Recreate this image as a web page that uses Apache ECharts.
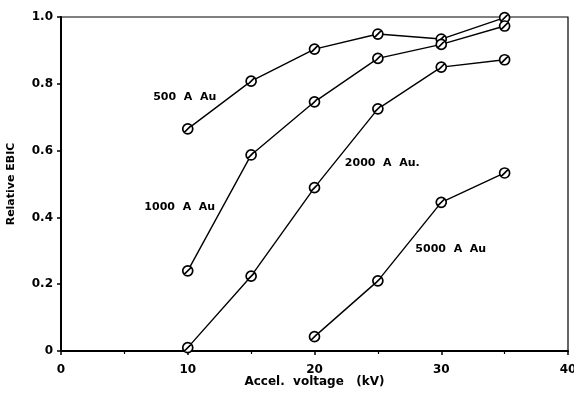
<!DOCTYPE html>
<html>
<head>
<meta charset="utf-8">
<script src="https://cdn.jsdelivr.net/npm/echarts@6/dist/echarts.min.js"></script>
<style>html,body{margin:0;padding:0;background:#fff;}#c{width:574px;height:399px;}</style>
</head>
<body>
<div id="c"></div>
<script>
const voltages = [10, 15, 20, 25, 30, 35];
const au500 = [0.665, 0.808, 0.904, 0.949, 0.934, 0.998];
const au1000 = [0.240, 0.587, 0.746, 0.876, 0.918, 0.973];
const au2000 = [0.010, 0.224, 0.489, 0.725, 0.850, 0.872];
const au5000 = [null, null, 0.043, 0.210, 0.445, 0.533];
const seriesNames = ['500 A Au', '1000 A Au', '2000 A Au.', '5000 A Au'];
const labelPos = [[9.76, 0.760], [9.37, 0.431], [25.35, 0.563], [30.75, 0.305]];
const xTicks = [0, 10, 20, 30, 40];
const yTicks = [0, 0.2, 0.4, 0.6, 0.8, 1.0];

const FONT = 'DejaVu Sans';
const sym = 'path://M0,-5A5,5 0 1,1 0,5A5,5 0 1,1 0,-5Z M-3.6,3.6L3.6,-3.6';

function pairs(vals) {
  const out = [];
  vals.forEach((v, i) => { if (v !== null) out.push([voltages[i], v]); });
  return out;
}
const allVals = [au500, au1000, au2000, au5000];

const chart = echarts.init(document.getElementById('c'), null, {renderer: 'canvas'});
chart.setOption({
  backgroundColor: '#fff',
  animation: false,
  grid: {left: 61, right: 6, top: 17, bottom: 48, show: true, borderColor: '#000', borderWidth: 1.2,
    backgroundColor: 'transparent', containLabel: false, outerBoundsMode: 'none'},
  xAxis: {
    type: 'value', min: 0, max: 40, interval: 10,
    name: 'Accel.  voltage   (kV)', nameLocation: 'middle', nameGap: 25, nameMoveOverlap: false,
    nameTextStyle: {fontFamily: FONT, fontWeight: 'bold', fontSize: 12, color: '#000'},
    axisLine: {show: true, lineStyle: {color: '#000', width: 2}},
    axisTick: {show: true, length: 4, lineStyle: {color: '#000', width: 1.5}},
    minorTick: {show: true, splitNumber: 2, length: 3, lineStyle: {color: '#000', width: 1.2}},
    axisLabel: {color: '#000', fontFamily: FONT, fontWeight: 'bold', fontSize: 12, margin: 13,
      hideOverlap: false, showMaxLabel: true, showMinLabel: true,
      formatter: v => xTicks.includes(v) ? String(v) : ''},
    splitLine: {show: false}
  },
  yAxis: {
    type: 'value', min: 0, max: 1.0, interval: 0.2,
    name: 'Relative EBIC', nameLocation: 'middle', nameGap: 44, nameRotate: 90,
    nameTextStyle: {fontFamily: FONT, fontWeight: 'bold', fontSize: 11, color: '#000'},
    axisLine: {show: true, lineStyle: {color: '#000', width: 2}},
    axisTick: {show: true, length: 4, lineStyle: {color: '#000', width: 1.5}},
    axisLabel: {color: '#000', fontFamily: FONT, fontWeight: 'bold', fontSize: 12, margin: 8,
      formatter: v => { const t = yTicks.find(k => Math.abs(k - v) < 1e-6); return t === undefined ? '' : (t === 0 ? '0' : t.toFixed(1)); }},
    splitLine: {show: false}
  },
  series: allVals.map((vals, i) => ({
    type: 'line',
    name: seriesNames[i],
    data: pairs(vals),
    symbol: sym,
    symbolSize: 10,
    showAllSymbol: true,
    lineStyle: {color: '#000', width: 1.4},
    itemStyle: {color: '#fff', borderColor: '#000', borderWidth: 1.7},
    z: 3,
    markPoint: {
      symbol: 'rect', symbolSize: 1, itemStyle: {color: 'transparent'},
      label: {show: true, position: 'inside', formatter: seriesNames[i].replace(/ /g, '  '),
        color: '#000', fontFamily: FONT, fontWeight: 'bold', fontSize: 11},
      data: [{coord: labelPos[i]}]
    }
  }))
});
</script>
</body>
</html>
